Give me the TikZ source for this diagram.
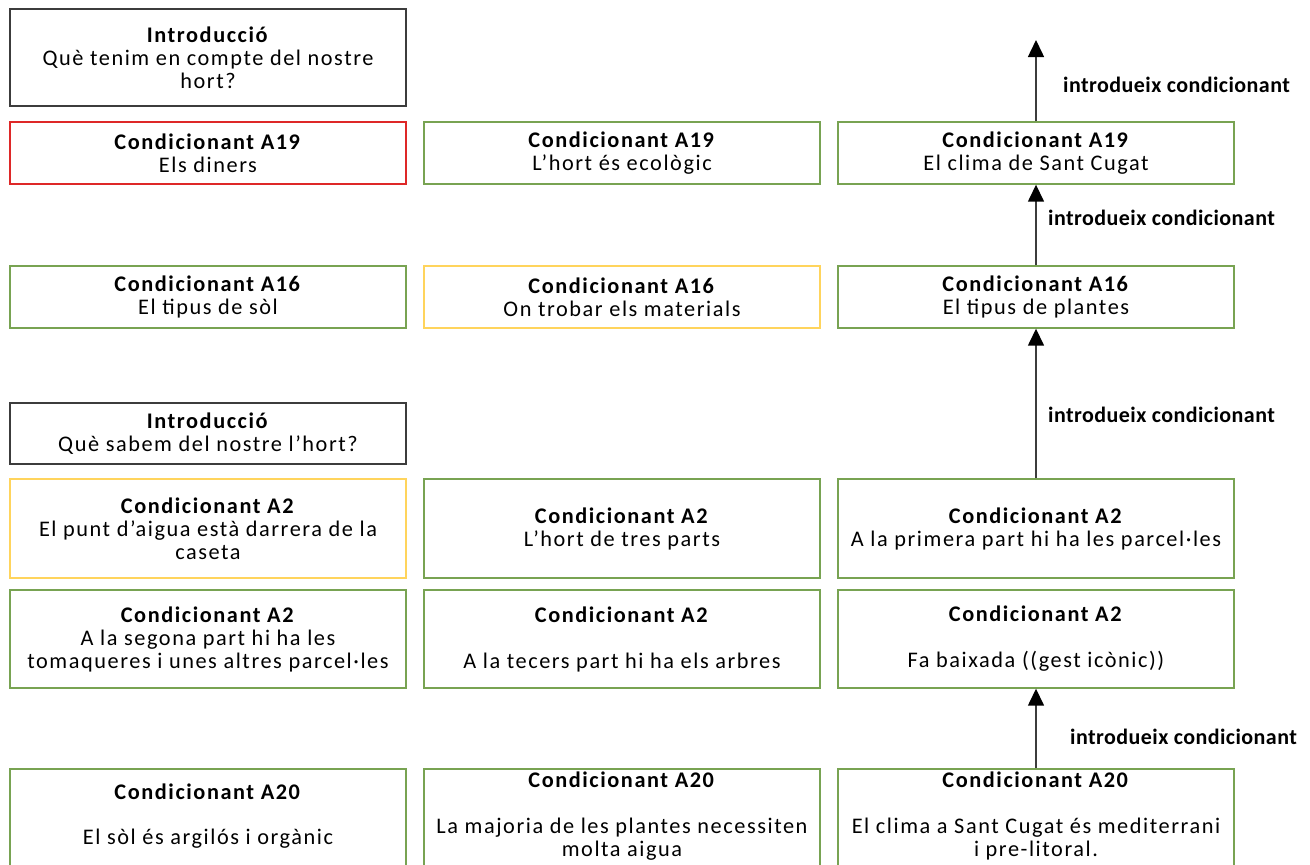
\documentclass[tikz,border=0pt]{standalone}
\usepackage{fontspec}
\setmainfont{Carlito}[LetterSpace=7]
\newfontfamily\lblfont{Carlito}[LetterSpace=2]
\usetikzlibrary{arrows.meta}

\definecolor{boxgreen}{RGB}{120,163,82}
\definecolor{boxred}{RGB}{222,40,40}
\definecolor{boxyellow}{RGB}{255,212,92}
\definecolor{boxdark}{RGB}{60,60,60}
\definecolor{arrowgray}{RGB}{60,60,60}

\tikzset{
  x=1pt, y=-1pt,
  box/.style={draw, line width=1.4pt, minimum width=396pt, minimum height=62pt,
    align=center, inner sep=0pt, font=\fontsize{22.3}{23}\selectfont},
  greenbox/.style={box, draw=boxgreen},
  redbox/.style={box, draw=boxred},
  yellowbox/.style={box, draw=boxyellow},
  darkbox/.style={box, draw=boxdark},
  boxtext/.style={align=center, inner sep=0pt, font=\fontsize{22.3}{23}\selectfont},
  uparrow/.style={draw=arrowgray, line width=1.5pt,
    -{Triangle[width=16pt,length=17pt,color=black]}},
  arrowlabel/.style={anchor=west, inner sep=0pt, font=\lblfont\bfseries\fontsize{22}{22}\selectfont},
}

\begin{document}
\begin{tikzpicture}
\useasboundingbox (0,0) rectangle (1310,865);
\clip (0,0) rectangle (1310,865);

% top block: introduction and conditions A19
\node[darkbox, minimum height=97pt] (intro1) at (208,57.5)
  {\textbf{Introducció}\\ Què tenim en compte del nostre\\ hort?};
\node[redbox] (a19a) at (208,153) {\textbf{Condicionant A19}\\ Els diners};
\node[greenbox] (a19b) at (622,153) {\textbf{Condicionant A19}\\ L’hort és ecològic};
\node[greenbox] (a19c) at (1036,153) {\textbf{Condicionant A19}\\ El clima de Sant Cugat};

% conditions A16
\node[greenbox] (a16a) at (208,297) {\textbf{Condicionant A16}\\ El tipus de sòl};
\node[yellowbox] (a16b) at (622,297) {\textbf{Condicionant A16}\\ On trobar els materials};
\node[greenbox] (a16c) at (1036,297) {\textbf{Condicionant A16}\\ El tipus de plantes};

% second introduction
\node[darkbox, minimum height=61pt] (intro2) at (208,433.5)
  {\textbf{Introducció}\\ Què sabem del nostre l’hort?};

% conditions A2, first row
\node[yellowbox, minimum height=99pt] (a2a) at (208,528.5)
  {\textbf{Condicionant A2}\\ El punt d’aigua està darrera de la\\ caseta};
\node[greenbox, minimum height=99pt] (a2b) at (622,528.5)
  {\textbf{Condicionant A2}\\ L’hort de tres parts};
\node[greenbox, minimum height=99pt] (a2c) at (1036,528.5)
  {\textbf{Condicionant A2}\\ A la primera part hi ha les parcel·les};

% conditions A2, second row
\node[greenbox, minimum height=98pt] (a2d) at (208,639)
  {\textbf{Condicionant A2}\\ A la segona part hi ha les\\ tomaqueres i unes altres parcel·les};
\node[greenbox, minimum height=98pt] (a2e) at (622,639)
  {\textbf{Condicionant A2}\\[23pt] A la tecers part hi ha els arbres};
\node[greenbox, minimum height=98pt] (a2f) at (1036,639)
  {\textbf{Condicionant A2}\\[23pt] Fa baixada ((gest icònic))};

% conditions A20 (running off the lower edge)
\node[greenbox, minimum height=110pt] (a20a) at (208,824) {};
\node[greenbox, minimum height=110pt] (a20b) at (622,824) {};
\node[greenbox, minimum height=110pt] (a20c) at (1036,824) {};
\node[boxtext] (a20at) at (208,816)
  {\textbf{Condicionant A20}\\[22pt] El sòl és argilós i orgànic};
\node[boxtext] (a20bt) at (622,816)
  {\textbf{Condicionant A20}\\[23pt] La majoria de les plantes necessiten\\ molta aigua};
\node[boxtext] (a20ct) at (1036,816)
  {\textbf{Condicionant A20}\\[23pt] El clima a Sant Cugat és mediterrani\\ i pre-litoral.};

% chain of introduced conditions
\coordinate (topend) at (1036,40);
\draw[uparrow] (a20c.north) -- (a2f.south);
\draw[uparrow] (a2c.north) -- (a16c.south);
\draw[uparrow] (a16c.north) -- (a19c.south);
\draw[uparrow] (a19c.north) -- (topend);

\node[arrowlabel] (lbl1) at (1070,737) {introdueix condicionant};
\node[arrowlabel] (lbl2) at (1048,415) {introdueix condicionant};
\node[arrowlabel] (lbl3) at (1048,218) {introdueix condicionant};
\node[arrowlabel] (lbl4) at (1063,85) {introdueix condicionant};
\end{tikzpicture}
\end{document}
